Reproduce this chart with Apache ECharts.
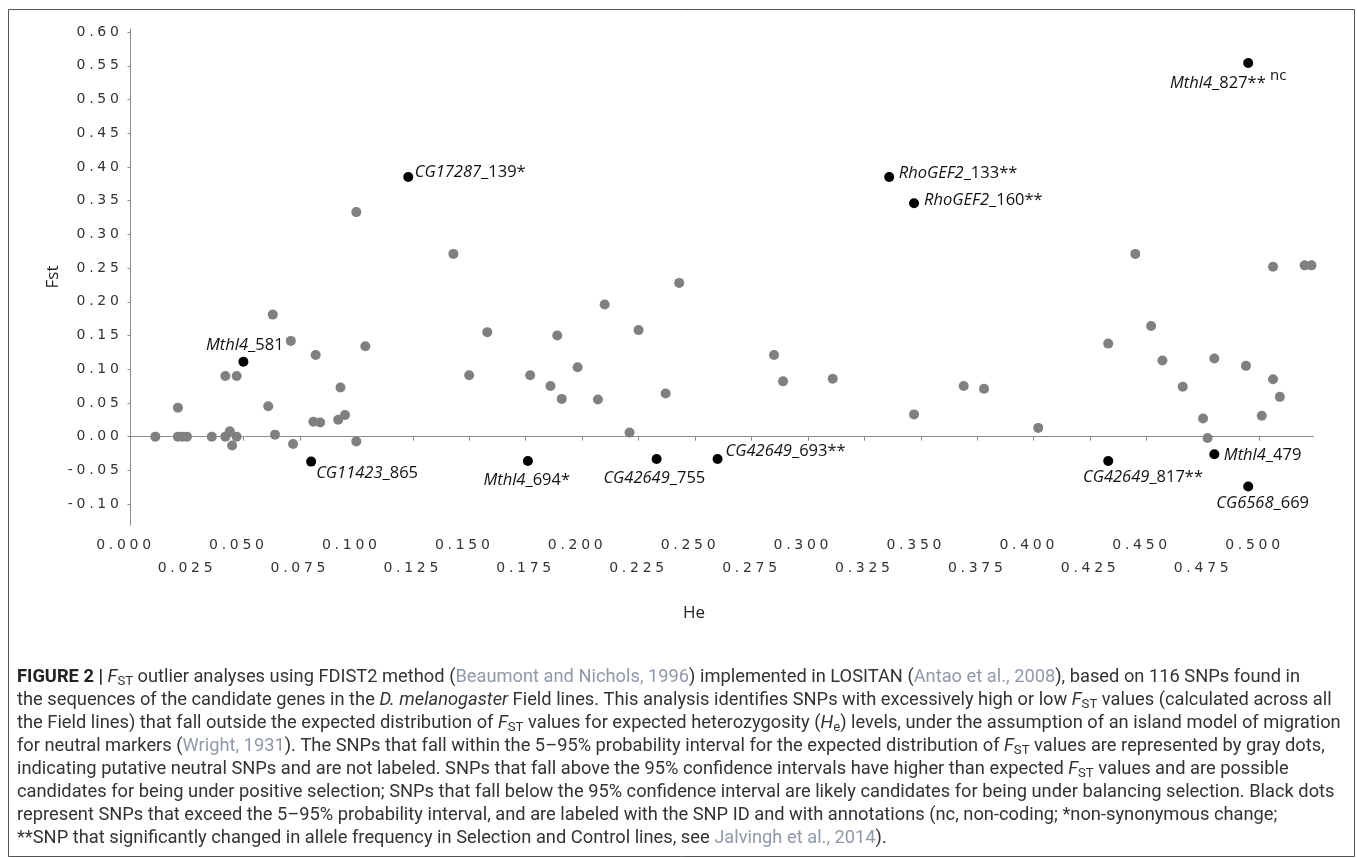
<!DOCTYPE html>
<html>
<head>
<meta charset="utf-8">
<script src="https://cdn.jsdelivr.net/npm/echarts@6/dist/echarts.min.js"></script>
<style>
html,body{margin:0;padding:0;background:#ffffff;}
#chart{width:1357px;height:858px;}
</style>
</head>
<body>
<div id="chart"></div>
<script>
// ---------------- data ----------------
const grayHe = [0.100, 0.143, 0.445, 0.506, 0.520, 0.523, 0.243, 0.210, 0.158, 0.189, 0.225, 0.063, 0.071, 0.082, 0.104, 0.042, 0.047, 0.021, 0.061, 0.093, 0.081, 0.084, 0.092, 0.095, 0.011, 0.021, 0.023, 0.025, 0.036, 0.042, 0.044, 0.047, 0.045, 0.064, 0.072, 0.100, 0.285, 0.150, 0.177, 0.186, 0.198, 0.191, 0.207, 0.237, 0.289, 0.311, 0.221, 0.452, 0.433, 0.457, 0.480, 0.494, 0.506, 0.466, 0.509, 0.369, 0.378, 0.347, 0.402, 0.475, 0.477, 0.501];
const grayFst = [0.333, 0.271, 0.271, 0.252, 0.254, 0.254, 0.228, 0.196, 0.155, 0.150, 0.158, 0.181, 0.142, 0.121, 0.134, 0.090, 0.090, 0.043, 0.045, 0.073, 0.022, 0.021, 0.025, 0.032, 0.000, 0.000, 0.000, 0.000, 0.000, 0.000, 0.008, 0.000, -0.013, 0.003, -0.011, -0.007, 0.121, 0.091, 0.091, 0.075, 0.103, 0.056, 0.055, 0.064, 0.082, 0.086, 0.006, 0.164, 0.138, 0.113, 0.116, 0.105, 0.085, 0.074, 0.059, 0.075, 0.071, 0.033, 0.013, 0.027, -0.002, 0.031];

const outlierGene   = ['CG17287', 'RhoGEF2', 'RhoGEF2', 'Mthl4', 'Mthl4', 'CG11423', 'Mthl4', 'CG42649', 'CG42649', 'CG42649', 'Mthl4', 'CG6568'];
const outlierSuffix = ['_139*', '_133**', '_160**', '_827**', '_581', '_865', '_694*', '_755', '_693**', '_817**', '_479', '_669'];
const outlierNote   = ['', '', '', 'nc', '', '', '', '', '', '', '', ''];
const outlierHe     = [0.123, 0.336, 0.347, 0.495, 0.050, 0.080, 0.176, 0.233, 0.260, 0.433, 0.480, 0.495];
const outlierFst    = [0.385, 0.385, 0.346, 0.554, 0.111, -0.037, -0.036, -0.033, -0.033, -0.036, -0.026, -0.074];

const xTickValues = [0, 0.025, 0.05, 0.075, 0.1, 0.125, 0.15, 0.175, 0.2, 0.225, 0.25, 0.275, 0.3, 0.325, 0.35, 0.375, 0.4, 0.425, 0.45, 0.475, 0.5];
const xTickLabels = ['0.000', '0.025', '0.050', '0.075', '0.100', '0.125', '0.150', '0.175', '0.200', '0.225', '0.250', '0.275', '0.300', '0.325', '0.350', '0.375', '0.400', '0.425', '0.450', '0.475', '0.500'];
const yTickValues = [-0.10, -0.05, 0, 0.05, 0.10, 0.15, 0.20, 0.25, 0.30, 0.35, 0.40, 0.45, 0.50, 0.55, 0.60];
const yTickLabels = ['-0.10', '-0.05', '0.00', '0.05', '0.10', '0.15', '0.20', '0.25', '0.30', '0.35', '0.40', '0.45', '0.50', '0.55', '0.60'];

const xAxisTitle = 'He';
const yAxisTitle = 'Fst';

const captionLines = [
  [['b', 'FIGURE 2 | '], ['i', 'F'], ['sub', 'ST'], ['n', ' outlier analyses using FDIST2 method ('], ['c', 'Beaumont and Nichols, 1996'], ['n', ') implemented in LOSITAN ('], ['c', 'Antao et al., 2008'], ['n', '), based on 116 SNPs found in']],
  [['n', 'the sequences of the candidate genes in the '], ['i', 'D. melanogaster'], ['n', ' Field lines. This analysis identifies SNPs with excessively high or low '], ['i', 'F'], ['sub', 'ST'], ['n', ' values (calculated across all']],
  [['n', 'the Field lines) that fall outside the expected distribution of '], ['i', 'F'], ['sub', 'ST'], ['n', ' values for expected heterozygosity ('], ['i', 'H'], ['sub', 'e'], ['n', ') levels, under the assumption of an island model of migration']],
  [['n', 'for neutral markers ('], ['c', 'Wright, 1931'], ['n', '). The SNPs that fall within the 5\u201395% probability interval for the expected distribution of '], ['i', 'F'], ['sub', 'ST'], ['n', ' values are represented by gray dots,']],
  [['n', 'indicating putative neutral SNPs and are not labeled. SNPs that fall above the 95% confidence intervals have higher than expected '], ['i', 'F'], ['sub', 'ST'], ['n', ' values and are possible']],
  [['n', 'candidates for being under positive selection; SNPs that fall below the 95% confidence interval are likely candidates for being under balancing selection. Black dots']],
  [['n', 'represent SNPs that exceed the 5\u201395% probability interval, and are labeled with the SNP ID and with annotations (nc, non-coding; *non-synonymous change;']],
  [['n', '**SNP that significantly changed in allele frequency in Selection and Control lines, see '], ['c', 'Jalvingh et al., 2014'], ['n', ').']]
];

// ---------------- label placement (layout only) ----------------
const labelPlace = [
  {position: 'right',  distance: 1.5, offset: [0, -5]},
  {position: 'right',  distance: 4.5, offset: [0, -3.4]},
  {position: 'right',  distance: 5,   offset: [0, -3.3]},
  {position: 'bottom', distance: 5,   offset: [-20, -5], tall: true},
  {position: 'top',    distance: 1.5, offset: [1.4, 0]},
  {position: 'right',  distance: 0,   offset: [0, 11.6]},
  {position: 'bottom', distance: 4,   offset: [-1.2, 0]},
  {position: 'bottom', distance: 4.5, offset: [-2.3, 0]},
  {position: 'right',  distance: 3,   offset: [0, -7.7]},
  {position: 'bottom', distance: 1.2, offset: [34.8, 0]},
  {position: 'right',  distance: 4.5, offset: [0, 0.7]},
  {position: 'bottom', distance: 2,   offset: [14.4, 0]}
];

// ---- letter spacing for tick labels (font "DejaVu Sans" only) ----
(function () {
  const proto = CanvasRenderingContext2D.prototype;
  const orig = proto.fillText;
  proto.fillText = function (t, x, y, m) {
    const want = (this.font && this.font.indexOf('DejaVu Sans') >= 0) ? '3.7px' : '0px';
    if (this.letterSpacing !== want) this.letterSpacing = want;
    return m === undefined ? orig.call(this, t, x, y) : orig.call(this, t, x, y, m);
  };
})();

function nearestIdx(arr, v) {
  let best = 0, bd = Infinity;
  for (let i = 0; i < arr.length; i++) {
    const d = Math.abs(arr[i] - v);
    if (d < bd) { bd = d; best = i; }
  }
  return best;
}

// ---------------- caption styling ----------------
const CAP_FONT = 'Roboto';
function capStyle(name, size) {
  const base = {fontFamily: CAP_FONT, fontSize: size, fontWeight: 'normal', fontStyle: 'normal', color: '#333333', lineHeight: 22};
  if (name === 'b') return Object.assign(base, {fontWeight: 'bold', color: '#222222'});
  if (name === 'i') return Object.assign(base, {fontStyle: 'italic'});
  if (name === 'c') return Object.assign(base, {color: '#8f99a8'});
  if (name === 'sub') return Object.assign(base, {fontSize: size * 0.72, lineHeight: 12, verticalAlign: 'bottom'});
  return base;
}
const mctx = document.createElement('canvas').getContext('2d');
function measureTokens(tokens, size) {
  let w = 0;
  tokens.forEach(([s, t]) => {
    const st = capStyle(s, size);
    mctx.font = st.fontStyle + ' ' + st.fontWeight + ' ' + st.fontSize + 'px ' + st.fontFamily;
    w += mctx.measureText(t).width;
  });
  return w;
}
let capScale = Infinity;
captionLines.forEach(tokens => { capScale = Math.min(capScale, 1331 / measureTokens(tokens, 100)); });
const capSize = Math.floor(capScale * 100 * 10) / 10;
const capRich = {};
['n', 'b', 'i', 'c', 'sub'].forEach(k => { capRich[k] = capStyle(k, capSize); });

const captionTitles = captionLines.map((tokens, i) => ({
  left: 17,
  top: 677 + 23 * i - 11,
  padding: 0,
  text: tokens.map(([s, t]) => '{' + s + '|' + t + '}').join(''),
  textStyle: {fontFamily: CAP_FONT, fontSize: capSize, fontWeight: 'normal', color: '#333333', lineHeight: 22, rich: capRich}
}));

// ---------------- chart ----------------
const labelFont = 'Open Sans';
const LF = 16.5;
const labelRich = {
  g:  {fontFamily: labelFont, fontStyle: 'italic', fontSize: LF, color: '#111111', lineHeight: 20},
  n:  {fontFamily: labelFont, fontSize: LF, color: '#111111', lineHeight: 20},
  g2: {fontFamily: labelFont, fontStyle: 'italic', fontSize: LF, color: '#111111', lineHeight: 30},
  n2: {fontFamily: labelFont, fontSize: LF, color: '#111111', lineHeight: 30},
  s:  {fontFamily: labelFont, fontSize: 15, color: '#111111', lineHeight: 15, verticalAlign: 'top'}
};

const blackData = outlierHe.map((h, i) => {
  const p = labelPlace[i];
  const tall = !!p.tall;
  const txt = '{' + (tall ? 'g2' : 'g') + '|' + outlierGene[i] + '}{' + (tall ? 'n2' : 'n') + '|' + outlierSuffix[i] + (outlierNote[i] ? ' ' : '') + '}' + (outlierNote[i] ? '{s|' + outlierNote[i] + '}' : '');
  return {
    value: [h, outlierFst[i]],
    label: {show: true, position: p.position, distance: p.distance, offset: p.offset, formatter: function () { return txt; }, rich: labelRich}
  };
});

const axisColor = '#8c8c8c';
const tickFont = {fontFamily: 'DejaVu Sans', fontSize: 14, color: '#333333'};

const option = {
  animation: false,
  backgroundColor: '#ffffff',
  title: captionTitles,
  grid: {left: 130.5, top: 29, width: 1183.2, height: 496, containLabel: false, outerBoundsMode: 'none'},
  xAxis: [
    {
      type: 'value', min: 0, max: 0.524, position: 'bottom',
      axisLine: {show: true, lineStyle: {color: axisColor, width: 1}},
      axisTick: {show: true, customValues: xTickValues, length: 4, inside: false, lineStyle: {color: axisColor}},
      axisLabel: Object.assign({
        customValues: xTickValues.filter((v, i) => i % 2 === 0),
        formatter: v => xTickLabels[nearestIdx(xTickValues, v)],
        margin: 12, lineHeight: 16, padding: [0, 10, 0, 0]
      }, tickFont),
      splitLine: {show: false},
      name: xAxisTitle, nameLocation: 'middle', nameGap: 78, nameMoveOverlap: false,
      nameTextStyle: {fontFamily: 'Open Sans', fontSize: 17, color: '#222222', lineHeight: 20, padding: [0, 56, 0, 0]}
    },
    {
      type: 'value', min: 0, max: 0.524, position: 'bottom', gridIndex: 0,
      axisLine: {show: false}, axisTick: {show: false}, splitLine: {show: false},
      axisLabel: Object.assign({
        customValues: xTickValues.filter((v, i) => i % 2 === 1),
        formatter: v => xTickLabels[nearestIdx(xTickValues, v)],
        margin: 35, lineHeight: 16
      }, tickFont)
    }
  ],
  yAxis: {
    type: 'value', min: -0.131, max: 0.6045,
    axisLine: {show: true, lineStyle: {color: axisColor, width: 1}},
    axisTick: {show: true, customValues: yTickValues, length: 3, inside: false, lineStyle: {color: axisColor}},
    axisLabel: Object.assign({
      customValues: yTickValues,
      formatter: v => yTickLabels[nearestIdx(yTickValues, v)],
      margin: 8
    }, tickFont),
    splitLine: {show: false},
    name: yAxisTitle, nameLocation: 'middle', nameGap: 67, nameMoveOverlap: false,
    nameTextStyle: {fontFamily: 'Open Sans', fontSize: 17, color: '#222222', lineHeight: 20}
  },
  graphic: [
    {type: 'rect', silent: true, z: 0, shape: {x: 8.5, y: 9.5, width: 1346, height: 847}, style: {fill: 'none', stroke: '#555555', lineWidth: 1}}
  ],
  series: [
    {
      type: 'scatter', xAxisIndex: 0, yAxisIndex: 0, silent: true, z: 2,
      symbol: 'circle', symbolSize: 10,
      itemStyle: {color: '#808080', opacity: 1},
      data: grayHe.map((h, i) => [h, grayFst[i]])
    },
    {
      type: 'scatter', xAxisIndex: 0, yAxisIndex: 0, silent: true, z: 3,
      symbol: 'circle', symbolSize: 10,
      itemStyle: {color: '#000000', opacity: 1},
      data: blackData
    }
  ]
};

const chart = echarts.init(document.getElementById('chart'), null, {renderer: 'canvas', width: 1357, height: 858});
chart.setOption(option);
</script>
</body>
</html>
